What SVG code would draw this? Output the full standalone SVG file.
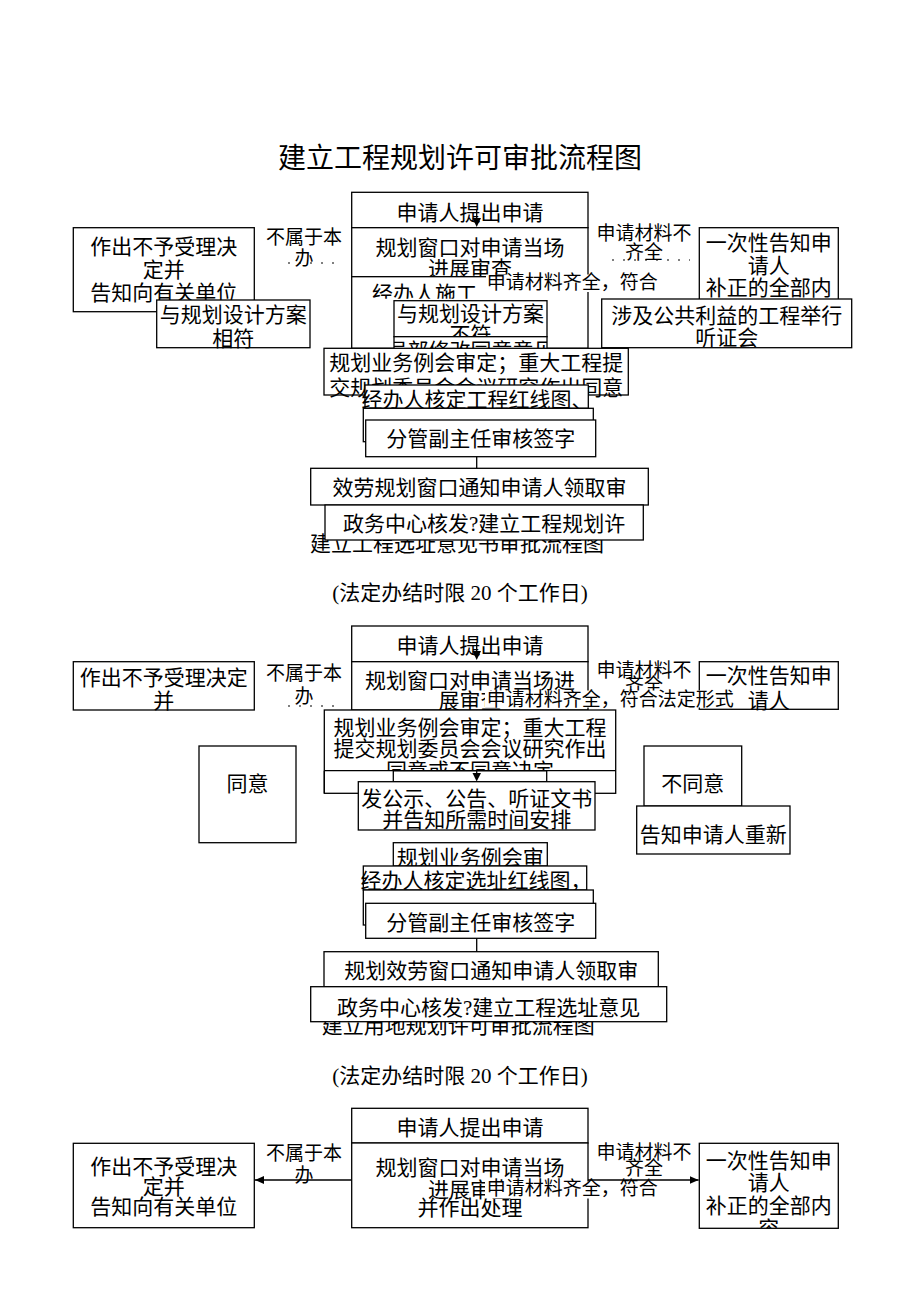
<svg xmlns="http://www.w3.org/2000/svg" width="920" height="1302" viewBox="0 0 920 1302">
<style>
.b{fill:#fff;stroke:#000;stroke-width:1.3}
.o{fill:none;stroke:#000;stroke-width:1.3}
.t{font-family:"Liberation Serif","Noto Sans CJK SC",serif;font-size:21px;text-anchor:middle;fill:#000}
.s{font-family:"Liberation Serif","Noto Sans CJK SC",serif;font-size:19px;text-anchor:middle;fill:#000}
.l{text-anchor:start}
.h{font-family:"Noto Sans CJK SC",sans-serif;font-size:28px;text-anchor:middle;fill:#000}
.w{fill:#fff;stroke:none}
.ln{stroke:#000;stroke-width:1.3;fill:none}
.dt{stroke:#000;stroke-width:1.2;stroke-dasharray:2 9;fill:none}
.ah{fill:#000}
</style>
<defs>
<marker id="arr" markerWidth="10" markerHeight="10" refX="9" refY="5" orient="auto" markerUnits="userSpaceOnUse"><path d="M0,1 L9,5 L0,9 Z" fill="#000"/></marker>
<clipPath id="c1"><rect x="351.7" y="227.7" width="236.3" height="49"/></clipPath>
<clipPath id="c2"><rect x="394" y="300.7" width="153" height="36"/></clipPath>
<clipPath id="c3"><rect x="394" y="336.7" width="153" height="12"/></clipPath>
<clipPath id="c4"><rect x="351.7" y="661.7" width="236.3" height="48.3"/></clipPath>
<clipPath id="c5"><rect x="324" y="758" width="292" height="13"/></clipPath>
<clipPath id="c6"><rect x="699.3" y="1143.3" width="139" height="85"/></clipPath>
<clipPath id="c7"><rect x="351.7" y="276.7" width="236.3" height="22"/></clipPath>
</defs>
<rect x="0" y="0" width="920" height="1302" fill="#fff"/>
<text class="h" x="460" y="168">建立工程规划许可审批流程图</text>

<!-- Section 1 -->
<g id="n1-apply"><rect class="b" x="351.7" y="192.3" width="236.3" height="35.4"/><text class="t" x="470" y="219.5">申请人提出申请</text></g>
<g id="n1-window"><rect class="b" x="351.7" y="227.7" width="236.3" height="49"/><g clip-path="url(#c1)"><text class="t" x="470" y="254.7">规划窗口对申请当场</text><text class="t" x="470" y="276">进展审查</text></g></g>
<g id="n1-handler"><rect class="b" x="351.7" y="276.7" width="236.3" height="71.6"/><g clip-path="url(#c7)"><text class="t l" x="372" y="301">经办人施工</text></g></g>
<g id="n1-label-ok"><rect class="w" x="486" y="274.5" width="174" height="17.5"/><text class="s l" x="486.7" y="288.7">申请材料齐全，符合</text></g>
<g id="n1-notmatch"><rect class="b" x="394" y="300.7" width="153" height="36"/><g clip-path="url(#c2)"><text class="t" x="470.5" y="321.3">与规划设计方案</text><text class="t" x="470.5" y="342">不符</text></g></g>
<g id="n1-partial"><rect class="b" x="394" y="336.7" width="153" height="20"/><g clip-path="url(#c3)"><text class="t" x="470.5" y="358">局部修改同意意见</text></g></g>
<g id="n1-reject"><rect class="b" x="73.3" y="227.7" width="181" height="84"/><text class="t" x="163.8" y="253.7">作出不予受理决</text><text class="t" x="163.8" y="277">定并</text><text class="t" x="163.8" y="299.7">告知向有关单位</text></g>
<g id="n1-match"><rect class="b" x="156.7" y="300" width="153.3" height="47.7"/><text class="t" x="233.3" y="322.3">与规划设计方案</text><text class="t" x="233.3" y="346">相符</text></g>
<g id="n1-label-no"><text class="s" x="304" y="243.7">不属于本</text><text class="s" x="304" y="265">办</text></g>
<g id="n1-label-incomplete"><text class="s" x="644" y="240.3">申请材料不</text><text class="s" x="644" y="258.7">齐全</text></g>
<g id="n1-notify"><rect class="b" x="699.3" y="227.7" width="139" height="80"/><text class="t" x="768.8" y="249.7">一次性告知申</text><text class="t" x="768.8" y="273">请人</text><text class="t" x="768.8" y="294.7">补正的全部内</text></g>
<g id="n1-hearing"><rect class="b" x="601.7" y="299" width="250" height="48.7"/><text class="t" x="726.7" y="323">涉及公共利益的工程举行</text><text class="t" x="726.7" y="344.7">听证会</text></g>
<g id="n1-meeting"><rect class="b" x="324" y="348.3" width="304.3" height="46.7"/><text class="t" x="476.2" y="369.7">规划业务例会审定；重大工程提</text><text class="t" x="476.2" y="394.7">交规划委员会会议研究作出同意</text></g>
<g id="n1-redline"><rect class="b" x="365" y="385" width="223.3" height="23.3"/><text class="t" x="477" y="407">经办人核定工程红线图、</text></g>
<g id="n1-hidden"><rect class="b" x="363.3" y="408.3" width="230" height="33.4"/></g>
<g id="n1-sign"><rect class="b" x="365.7" y="420" width="230" height="36.7"/><text class="t" x="480.7" y="446.3">分管副主任审核签字</text></g>
<g id="n1-service"><rect class="b" x="310.7" y="468.3" width="337.6" height="36.7"/><text class="t" x="479.5" y="494.7">效劳规划窗口通知申请人领取审</text></g>
<text class="t l" x="310" y="551">建立工程选址意见书审批流程图</text>
<g id="n1-issue"><rect class="b" x="325" y="505" width="318.3" height="35"/><text class="t" x="484.2" y="531.3">政务中心核发?建立工程规划许</text></g>
<text class="t" x="460" y="600">(法定办结时限 20 个工作日)</text>

<!-- Section 2 -->
<g id="n2-apply"><rect class="b" x="351.7" y="626" width="236.3" height="35.7"/><text class="t" x="470" y="653">申请人提出申请</text></g>
<g id="n2-window"><rect class="b" x="351.7" y="661.7" width="236.3" height="48.3"/><g clip-path="url(#c4)"><text class="t" x="470" y="688">规划窗口对申请当场进</text><text class="t" x="470" y="708">展审查</text></g></g>
<g id="n2-reject"><rect class="b" x="73.3" y="661.7" width="181" height="48.3"/><text class="t" x="163.8" y="684.7">作出不予受理决定</text><text class="t" x="163.8" y="708">并</text></g>
<g id="n2-label-no"><text class="s" x="304" y="680.3">不属于本</text><text class="s" x="304" y="703">办</text></g>
<g id="n2-label-incomplete"><text class="s" x="644" y="677">申请材料不</text><text class="s" x="644" y="692">齐全</text></g>
<g id="n2-notify"><rect class="b" x="699.3" y="661.7" width="139" height="47.6"/><text class="t" x="768.8" y="683">一次性告知申</text><text class="t" x="768.8" y="708">请人</text></g>
<g id="n2-label-ok"><rect class="w" x="485" y="690.5" width="254" height="17"/><text class="s l" x="486.7" y="706">申请材料齐全，符合法定形式</text></g>
<g id="n2-meeting"><rect class="b" x="324.3" y="710" width="291.4" height="83.3"/><text class="t" x="470" y="734.7">规划业务例会审定；重大工程</text><text class="t" x="470" y="756.3">提交规划委员会会议研究作出</text><g clip-path="url(#c5)"><text class="t" x="470" y="778">同意或不同意决定</text></g><line class="ln" x1="324.3" y1="770.7" x2="615.7" y2="770.7"/><rect class="o" x="393.3" y="770.7" width="153.4" height="11"/></g>
<g id="n2-publish"><rect class="b" x="358.3" y="781.7" width="236.7" height="48.3"/><text class="t" x="476.7" y="805.5">发公示、公告、听证文书</text><text class="t" x="476.7" y="827">并告知所需时间安排</text></g>
<g id="n2-agree"><rect class="b" x="199" y="746" width="97" height="96.7"/><text class="t" x="247.5" y="791.3">同意</text></g>
<g id="n2-disagree"><rect class="b" x="644" y="746" width="97.7" height="60"/><text class="t" x="692.8" y="791.3">不同意</text></g>
<g id="n2-renew"><rect class="b" x="636.7" y="806" width="153.3" height="48"/><text class="t" x="713.3" y="842">告知申请人重新</text></g>
<g id="n2-meeting2"><rect class="b" x="393.3" y="842.7" width="154" height="23.3"/><text class="t" x="470.3" y="864.7">规划业务例会审</text></g>
<g id="n2-redline"><rect class="b" x="363.3" y="866" width="223.4" height="24"/><text class="t" x="476" y="888">经办人核定选址红线图，</text></g>
<g id="n2-hidden"><rect class="b" x="363.3" y="890" width="230" height="35"/></g>
<g id="n2-sign"><rect class="b" x="365.7" y="903.3" width="230" height="35"/><text class="t" x="480.7" y="929.7">分管副主任审核签字</text></g>
<g id="n2-service"><rect class="b" x="324" y="951.7" width="334.3" height="35"/><text class="t" x="491.2" y="978">规划效劳窗口通知申请人领取审</text></g>
<text class="t l" x="321.7" y="1033">建立用地规划许可审批流程图</text>
<g id="n2-issue"><rect class="b" x="310.7" y="986.7" width="356" height="35"/><text class="t" x="488.7" y="1014.7">政务中心核发?建立工程选址意见</text></g>
<text class="t" x="460" y="1083">(法定办结时限 20 个工作日)</text>

<!-- Section 3 -->
<g id="n3-apply"><rect class="b" x="351.7" y="1108.3" width="236.3" height="34.7"/><text class="t" x="470" y="1135.3">申请人提出申请</text></g>
<g id="n3-window"><rect class="b" x="351.7" y="1143" width="236.3" height="84.7"/><text class="t" x="470" y="1175">规划窗口对申请当场</text><text class="t" x="470" y="1197">进展审查</text><text class="t" x="470" y="1215">并作出处理</text></g>
<g id="n3-reject"><rect class="b" x="73.3" y="1143.3" width="181" height="84.4"/><text class="t" x="163.8" y="1173.7">作出不予受理决</text><text class="t" x="163.8" y="1194">定并</text><text class="t" x="163.8" y="1214">告知向有关单位</text></g>
<g id="n3-notify"><rect class="b" x="699.3" y="1143.3" width="139" height="85"/><g clip-path="url(#c6)"><text class="t" x="768.8" y="1168">一次性告知申</text><text class="t" x="768.8" y="1189.7">请人</text><text class="t" x="768.8" y="1213">补正的全部内</text><text class="t" x="768.8" y="1236">容</text></g></g>

<g id="connectors">
<line class="dt" x1="288" y1="263" x2="342" y2="263"/>
<line class="dt" x1="612" y1="260" x2="690" y2="260"/>
<line class="dt" x1="288" y1="706" x2="342" y2="706"/>
<line class="ln" x1="476.7" y1="209" x2="476.7" y2="219"/>
<path class="ah" d="M472.5,218 L481,218 L476.7,227 Z"/>
<line class="ln" x1="476.7" y1="643" x2="476.7" y2="652"/>
<path class="ah" d="M472.5,651 L481,651 L476.7,660 Z"/>
<line class="ln" x1="476.7" y1="771" x2="476.7" y2="774"/>
<path class="ah" d="M472.5,773 L481,773 L476.7,781.5 Z"/>
<line class="ln" x1="324.3" y1="770.7" x2="324.3" y2="793.3"/>
<line class="ln" x1="476.7" y1="456.7" x2="476.7" y2="468.3"/>
<line class="ln" x1="476.7" y1="938.3" x2="476.7" y2="951.7"/>
<line class="ln" x1="351.7" y1="1180" x2="255" y2="1180" marker-end="url(#arr)"/>
<line class="ln" x1="588" y1="1180" x2="698.6" y2="1180" marker-end="url(#arr)"/>
</g>
<g id="n3-labels"><text class="s" x="304" y="1160.3">不属于本</text><text class="s" x="304" y="1182">办</text><text class="s" x="644" y="1158.7">申请材料不</text><text class="s" x="644" y="1175.3">齐全</text><rect class="w" x="485" y="1181.5" width="174" height="17"/><text class="s l" x="486.7" y="1195.3">申请材料齐全，符合</text></g>
</svg>
